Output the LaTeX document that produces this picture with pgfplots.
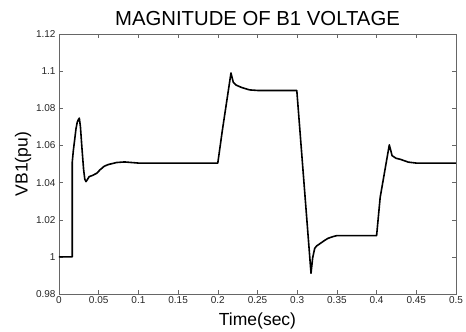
\documentclass[border=0pt]{standalone}
\usepackage{pgfplots}
\pgfplotsset{compat=1.18}
\usepackage{fontspec}
\setmainfont{Liberation Sans}
\begin{document}
\begin{tikzpicture}
\begin{axis}[
  scale only axis,
  at={(0,0)}, anchor=south west,
  width=397pt, height=260pt,
  xmin=0, xmax=0.5, ymin=0.98, ymax=1.12,
  xtick={0,0.05,...,0.5},
  ytick={0.98,1,1.02,1.04,1.06,1.08,1.1,1.12},
  xticklabels={0,0.05,0.1,0.15,0.2,0.25,0.3,0.35,0.4,0.45,0.5},
  yticklabels={0.98,1,1.02,1.04,1.06,1.08,1.1,1.12},
  tick align=inside,
  major tick length=4pt,
  axis line style={black!60},
  every tick/.style={black!60},
  tick label style={font=\fontsize{10}{12}\selectfont, text=black!85},
  xticklabel style={yshift=1pt},
  yticklabel style={xshift=0pt},
  title={MAGNITUDE OF B1 VOLTAGE},
  title style={font=\fontsize{20.3}{23}\selectfont, yshift=-1pt},
  xlabel={Time(sec)},
  ylabel={VB1(pu)},
  xlabel style={font=\fontsize{17.5}{20}\selectfont, yshift=-2pt},
  ylabel style={font=\fontsize{17.5}{20}\selectfont, yshift=-2pt},
]
\addplot[black, line width=1.6pt, line join=round] coordinates {
(0,1.0) (0.0167,1.0) (0.0167,1.051) (0.018,1.057) (0.020,1.064) (0.0214,1.069) (0.023,1.0725) (0.0245,1.074) (0.0256,1.0747)
(0.027,1.070) (0.029,1.058) (0.031,1.047) (0.0325,1.0418) (0.034,1.0405) (0.036,1.0418) (0.038,1.0432) (0.042,1.0438)
(0.0474,1.045) (0.052,1.047) (0.057,1.0488) (0.062,1.0497) (0.0726,1.0508) (0.0826,1.0511) (0.1,1.0505) (0.2,1.0505)
(0.2057,1.068) (0.2166,1.099) (0.2195,1.094) (0.223,1.0925) (0.23,1.0912) (0.24,1.0899) (0.25,1.0896) (0.2995,1.0896)
(0.3174,0.9912) (0.3195,0.9995) (0.322,1.0045) (0.3245,1.0059) (0.33,1.0075) (0.335,1.009) (0.339,1.0100) (0.345,1.0109)
(0.3497,1.0114) (0.4,1.0114) (0.4045,1.032) (0.416,1.0603) (0.4195,1.0545) (0.4244,1.0531) (0.43,1.0525) (0.44,1.051)
(0.45,1.0505) (0.5,1.0505)
};
\end{axis}
\pgfresetboundingbox
\useasboundingbox (-59pt,-38pt) rectangle (407pt,294pt);
\end{tikzpicture}
\end{document}
